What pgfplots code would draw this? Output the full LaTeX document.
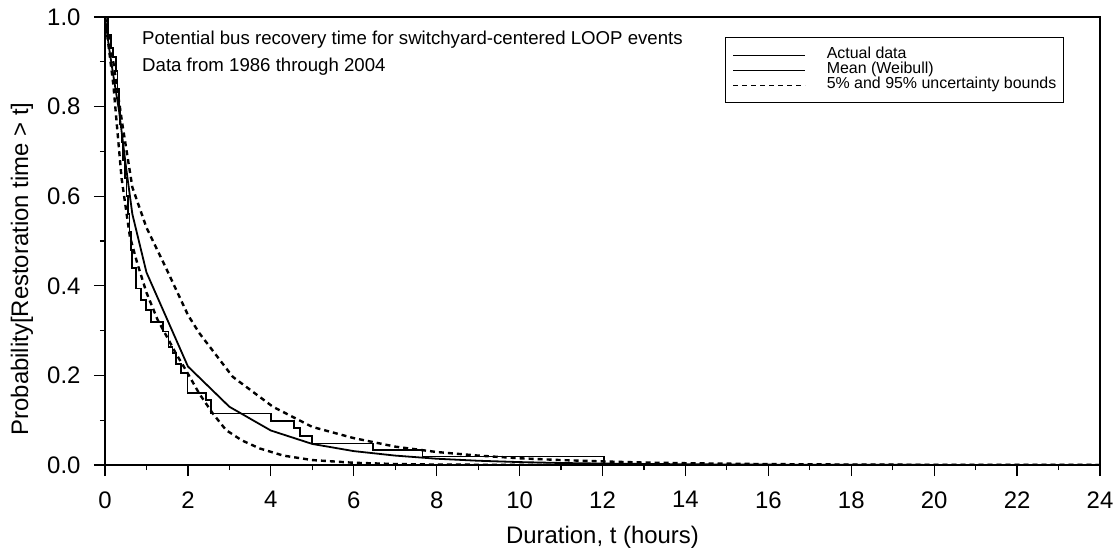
\documentclass[border=0pt]{standalone}
\usepackage{fontspec}
\setmainfont{Liberation Sans}
\usepackage{pgfplots}
\pgfplotsset{compat=1.18}
\begin{document}
\begin{tikzpicture}
\begin{axis}[
 scale only axis, width=995bp, height=448bp,
 xmin=0, xmax=24, ymin=0, ymax=1,
 xtick={0,2,4,6,8,10,12,14,16,18,20,22,24},
 minor xtick={1,3,5,7,9,11,13,15,17,19,21,23},
 ytick={0,0.2,0.4,0.6,0.8,1},
 minor ytick={0.1,0.3,0.5,0.7,0.9},
 tick align=outside, xtick pos=bottom, ytick pos=left,
 major tick length=11bp, minor tick length=5bp,
 axis line style={line width=1.6bp},
 every tick/.style={line width=1.2bp, black},
 tick label style={font=\fontsize{24}{24}\selectfont},
 /pgf/number format/assume math mode=true,
 xticklabel style={yshift=-12bp},
 yticklabel style={xshift=-10bp, /pgf/number format/fixed, /pgf/number format/fixed zerofill, /pgf/number format/precision=1},
 xlabel={Duration, t (hours)},
 ylabel={Probability[Restoration time > t]},
 label style={font=\fontsize{24}{24}\selectfont},
 xlabel style={at={(axis description cs:0.5,-0.1607)}, anchor=center},
 ylabel style={at={(axis description cs:-0.0834,0.4375)}, anchor=center},
 legend style={at={(axis description cs:0.623,0.955)}, anchor=north west, draw=black, line width=1.2bp,
   font=\fontsize{16}{15}\selectfont, inner xsep=7bp, inner ysep=10bp, row sep=0bp,
   nodes={inner sep=0bp, text height=11bp, text depth=4bp},
   /tikz/every odd column/.append style={column sep=21bp}, cells={anchor=west}},
 legend image code/.code={\draw[#1, line width=1.3bp] (0bp,0bp) -- (72bp,0bp);},
 legend cell align=left,
]
% Actual data (step function)
\addplot[const plot, black, line width=1.8bp] coordinates {
(0,1.0) (0.08,0.96) (0.15,0.93) (0.2,0.91) (0.26,0.88) (0.3,0.84) (0.33,0.80) (0.36,0.76)
(0.40,0.72) (0.44,0.68) (0.48,0.64) (0.52,0.60) (0.56,0.56) (0.59,0.52) (0.62,0.48)
(0.66,0.44) (0.74,0.394) (0.86,0.368) (0.98,0.346) (1.10,0.32) (1.39,0.298) (1.53,0.264)
(1.63,0.25) (1.71,0.225) (1.83,0.205) (1.99,0.16) (2.44,0.145) (2.55,0.115) (4.0,0.098)
(4.55,0.082) (4.7,0.065) (5.0,0.048) (6.47,0.033) (7.66,0.019) (12.03,0.0)
};
\addlegendentry{Actual data}
% Mean (Weibull)
\addplot[black, line width=1.8bp] coordinates {
(0,1.0) (0.1,0.93) (0.2,0.87) (0.34,0.79) (0.5,0.67) (0.66,0.56) (1,0.43) (2,0.22) (3,0.13)
(4,0.077) (5,0.047) (6,0.031) (7,0.021) (8,0.014) (9,0.0095) (10,0.0065) (11,0.0045)
(12,0.0032) (14,0.0016) (16,0.0008) (18,0.0004) (20,0.0002) (24,0)
};
\addlegendentry{Mean (Weibull)}
% 95% bound
\addplot[black, line width=2.4bp, dash pattern=on 5bp off 4bp] coordinates {
(0,1.0) (0.2,0.90) (0.42,0.76) (0.66,0.62) (1.0,0.53) (1.47,0.44) (2.0,0.335) (2.27,0.295)
(3.08,0.197) (4.05,0.13) (5,0.085) (6,0.06) (7,0.041) (8,0.029) (9,0.021) (10,0.015)
(11,0.011) (12,0.008) (13,0.0055) (14,0.004) (16,0.002) (18,0.001) (20,0.0005) (24,0.0001)
};
\addlegendentry{5\% and 95\% uncertainty bounds}
% 5% bound
\addplot[black, line width=2.4bp, dash pattern=on 5bp off 4bp, forget plot] coordinates {
(0,1.0) (0.2,0.85) (0.4,0.64) (0.6,0.51) (0.78,0.45) (1.0,0.385) (1.27,0.324) (1.5,0.285)
(1.71,0.249) (1.95,0.212) (2.27,0.16) (2.6,0.115) (2.92,0.078) (3.3,0.055) (3.73,0.037)
(4.3,0.021) (5.0,0.011) (6,0.005) (7,0.0022) (8,0.001) (10,0.0002) (24,0)
};
\node[anchor=west, font=\fontsize{18.7}{18.7}\selectfont, inner sep=0pt, xshift=37bp, yshift=-23bp] at (rel axis cs:0,1) {Potential bus recovery time for switchyard-centered LOOP events};
\node[anchor=west, font=\fontsize{18.7}{18.7}\selectfont, inner sep=0pt, xshift=37bp, yshift=-50bp] at (rel axis cs:0,1) {Data from 1986 through 2004};
\end{axis}
\pgfresetboundingbox
\path[use as bounding box] (-105bp,-90bp) rectangle (1013bp,465bp);
\end{tikzpicture}
\end{document}
